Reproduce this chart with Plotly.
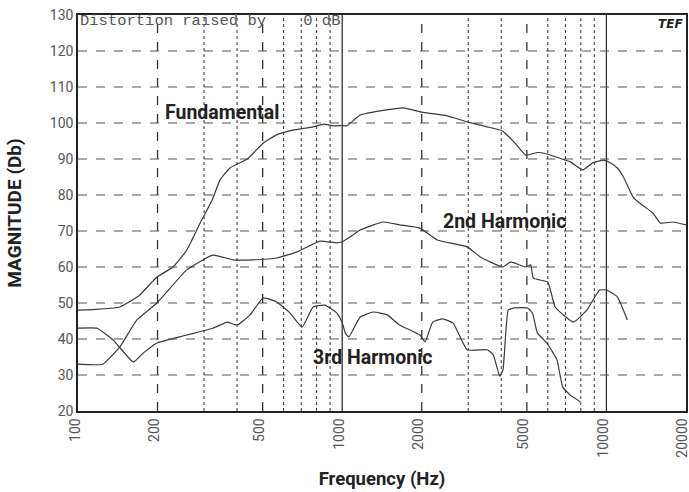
import math
import plotly.graph_objects as go

# ---- data ----
fund_f = [100, 120, 144, 170, 199, 229, 258, 290, 322, 345, 376, 437, 502, 565, 650, 776, 850, 925, 1000, 1040,
          1170, 1430, 1700, 2000, 2500, 2970, 3500, 4040, 4500, 4950, 5500, 5950, 6500, 7300, 8150, 8900, 9800,
          10300, 11000, 11600, 12600, 13500, 15000, 16000, 17900, 20000]
fund_v = [48, 48.3, 48.9, 52, 57.2, 60, 64.7, 72.2, 78.6, 84.2, 87.5, 90, 94.4, 96.7, 98, 98.9, 99.7, 99.2, 99.3, 99.2,
          102.2, 103.5, 104.2, 103, 102, 100.3, 99, 97.8, 94.5, 91.1, 91.8, 91.4, 90.5, 89.2, 87, 89, 89.7,
          89, 87.5, 85, 79.5, 77.5, 75, 72.2, 72.5, 71.7]

h2_f = [100, 124, 144, 167, 199, 258, 324, 386, 460, 565, 675, 825, 955, 1000, 1070, 1170, 1430, 1650, 1970,
        2290, 2970, 3330, 4060, 4340, 4950, 5170, 5290, 6000, 6400, 7500, 8430, 9430, 10000, 11000, 12000]
h2_v = [33, 33, 37.8, 45.3, 50, 59.2, 63.3, 62, 62, 62.5, 64.2, 67.2, 66.7, 67, 68.3, 70.3, 72.5, 71.7, 70.8,
        67.5, 65.6, 62.8, 60, 61.4, 60, 60.6, 56.9, 55.8, 48.9, 44.7, 48, 53.6, 53.6, 51.7, 45.3]

h3_f = [100, 118, 136, 162, 176, 199, 258, 324, 367, 400, 448, 502, 565, 635, 705, 776, 860, 955, 1000, 1030, 1060,
        1170, 1310, 1480, 1650, 1970, 2060, 2200, 2400, 2630, 2970, 3540, 3730, 3950, 4060, 4250, 4440, 5030,
        5250, 5480, 5950, 6500, 6830, 7300, 7960]
h3_v = [43, 43, 39.7, 33.6, 36, 38.9, 41.1, 43, 44.7, 43.9, 46.7, 51.4, 50.3, 47.2, 43.3, 48.9, 49.4, 47.2, 44.5, 41.5, 40.6,
        46.1, 47.5, 46.7, 43.9, 41.1, 39.2, 44.7, 45.6, 44.4, 37, 37, 35.6, 29.6, 31.4, 48, 48.6, 48.6,
        47.2, 41.7, 38.9, 34.2, 26.7, 24.4, 22.6]

x_ticks = [100, 200, 500, 1000, 2000, 5000, 10000, 20000]
x_tick_labels = ["100", "200", "500", "1000", "2000", "5000", "10000", "20000"]
y_ticks = [20, 30, 40, 50, 60, 70, 80, 90, 100, 110, 120, 130]
dashed_v = [200, 500, 2000, 5000]
dotted_v = [300, 400, 600, 700, 800, 900, 3000, 4000, 6000, 7000, 8000, 9000]
solid_v = [1000, 10000]
h_grid = [30, 40, 50, 60, 70, 80, 90, 100, 110, 120]

LINE = "#3a3a3a"
fig = go.Figure()
for f, v in [(fund_f, fund_v), (h2_f, h2_v), (h3_f, h3_v)]:
    fig.add_trace(go.Scatter(x=f, y=v, mode="lines", line=dict(color=LINE, width=1.2, shape="spline", smoothing=0.4),
                             showlegend=False, hoverinfo="skip"))

shapes = []
for y in h_grid:
    shapes.append(dict(type="line", xref="paper", yref="y", x0=0, x1=1, y0=y, y1=y,
                       line=dict(color="#555", width=1.1, dash="dash"), layer="below"))
for x in dashed_v:
    shapes.append(dict(type="line", xref="x", yref="paper", x0=x, x1=x, y0=0, y1=1,
                       line=dict(color="#333", width=1.3, dash="dash"), layer="below"))
for x in dotted_v:
    shapes.append(dict(type="line", xref="x", yref="paper", x0=x, x1=x, y0=0, y1=1,
                       line=dict(color="#444", width=1.1, dash="dot"), layer="below"))
for x in solid_v:
    shapes.append(dict(type="line", xref="x", yref="paper", x0=x, x1=x, y0=0, y1=1,
                       line=dict(color="#333", width=1.3), layer="below"))

ann_font = dict(family="Roboto", size=19.5, color="#222")
annotations = [
    dict(x=math.log10(351), y=103.0, xref="x", yref="y", text="<b>Fundamental</b>", showarrow=False, font=ann_font),
    dict(x=math.log10(4100), y=72.6, xref="x", yref="y", text="<b>2nd Harmonic</b>", showarrow=False, font=ann_font),
    dict(x=math.log10(1300), y=34.9, xref="x", yref="y", text="<b>3rd Harmonic</b>", showarrow=False, font=ann_font),
    dict(x=0.0, y=1.012, xref="paper", yref="paper", xanchor="left", yanchor="top",
         text="Distortion raised by    0 dB", showarrow=False,
         font=dict(family="Liberation Mono", size=15.5, color="#555")),
    dict(x=0.998, y=1.0, xref="paper", yref="paper", xanchor="right", yanchor="top",
         text="<b><i>TEF</i></b>", showarrow=False, font=dict(family="DejaVu Sans", size=12, color="#222")),
]

fig.update_layout(
    width=689, height=492,
    margin=dict(l=78, r=3, t=15, b=81, autoexpand=False),
    paper_bgcolor="white", plot_bgcolor="white",
    shapes=shapes, annotations=annotations,
    xaxis=dict(type="log", range=[2, math.log10(20000) + 0.0003], tickvals=x_ticks, ticktext=x_tick_labels,
               tickangle=-90, showgrid=False, zeroline=False, showline=True, mirror=True,
               linecolor="#222", linewidth=1.5, ticks="", automargin=False, ticklabeloverflow="allow",
               ticklabelshift=-3,
               tickfont=dict(family="Roboto", size=14, color="#555"),
               title=dict(text="<b>Frequency (Hz)</b>", font=dict(family="Roboto", size=18.5, color="#222"), standoff=15)),
    yaxis=dict(range=[20, 130], tickvals=y_ticks, showgrid=False, zeroline=False, showline=True, mirror=True,
               linecolor="#222", linewidth=1.5, ticks="", automargin=False, ticklabeloverflow="allow",
               tickfont=dict(family="Roboto", size=14, color="#555"),
               title=dict(text="<b>MAGNITUDE (Db)</b>", font=dict(family="Roboto", size=19, color="#222"), standoff=23)),
)

fig.write_html("out.html", config={"displayModeBar": False},
               post_script="document.body.style.margin='0';document.documentElement.style.overflow='hidden';")
